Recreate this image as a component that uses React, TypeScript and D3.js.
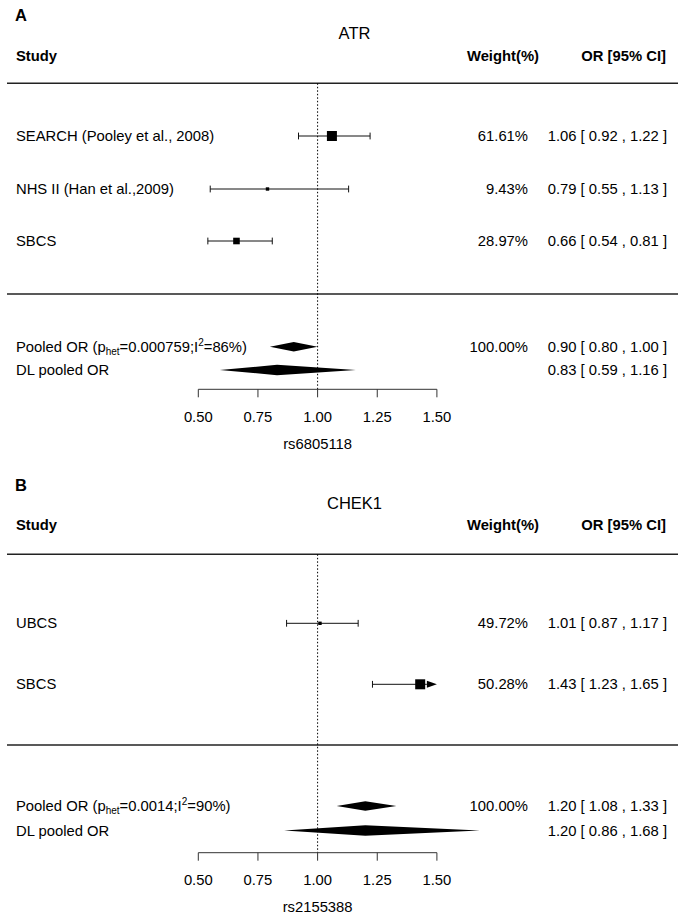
import React from "react";
import * as d3 from "d3";

// ---------- DATA ----------
const ticks = [0.5, 0.75, 1.0, 1.25, 1.5];

const studiesA = ["SEARCH (Pooley et al., 2008)", "NHS II (Han et al.,2009)", "SBCS"];
const orA = [1.06, 0.79, 0.66];
const loA = [0.92, 0.55, 0.54];
const hiA = [1.22, 1.13, 0.81];
const weightA = [61.61, 9.43, 28.97];
const pooledA = [0.9, 0.8, 1.0];
const dlA = [0.83, 0.59, 1.16];
const phetA = "0.000759";
const i2A = "86";

const studiesB = ["UBCS", "SBCS"];
const orB = [1.01, 1.43];
const loB = [0.87, 1.23];
const hiB = [1.17, 1.65];
const weightB = [49.72, 50.28];
const pooledB = [1.2, 1.08, 1.33];
const dlB = [1.2, 0.86, 1.68];
const phetB = "0.0014";
const i2B = "90";

// ---------- LAYOUT ----------
const FONT = "'Liberation Sans', Arial, Helvetica, sans-serif";
const FS = 14.8;
const x = d3.scaleLinear().domain([0.5, 1.5]).range([198.3, 436.9]);
const fmt = d3.format(".2f");

type Panel = {
  letter: string;
  title: string;
  xlab: string;
  studies: string[];
  or: number[];
  lo: number[];
  hi: number[];
  w: number[];
  pooled: number[];
  dl: number[];
  phet: string;
  i2: string;
  y: {
    letter: number;
    title: number;
    header: number;
    line1: number;
    rows: number[];
    line2: number;
    pooled: number;
    dl: number;
    axis: number;
    tickLab: number;
    xlab: number;
  };
};

const panels: Panel[] = [
  {
    letter: "A",
    title: "ATR",
    xlab: "rs6805118",
    studies: studiesA,
    or: orA,
    lo: loA,
    hi: hiA,
    w: weightA,
    pooled: pooledA,
    dl: dlA,
    phet: phetA,
    i2: i2A,
    y: {
      letter: 15,
      title: 33.3,
      header: 56,
      line1: 83.3,
      rows: [136, 189, 241],
      line2: 294,
      pooled: 346.7,
      dl: 370,
      axis: 389.3,
      tickLab: 416.7,
      xlab: 444,
    },
  },
  {
    letter: "B",
    title: "CHEK1",
    xlab: "rs2155388",
    studies: studiesB,
    or: orB,
    lo: loB,
    hi: hiB,
    w: weightB,
    pooled: pooledB,
    dl: dlB,
    phet: phetB,
    i2: i2B,
    y: {
      letter: 485,
      title: 503,
      header: 525,
      line1: 554.3,
      rows: [623.3, 684.3],
      line2: 745,
      pooled: 806,
      dl: 830.5,
      axis: 852.7,
      tickLab: 880,
      xlab: 906.7,
    },
  },
];

const ciText = (v: number[]) => `${fmt(v[0])} [ ${fmt(v[1])} , ${fmt(v[2])} ]`;

function Diamond({ v, y, h }: { v: number[]; y: number; h: number }) {
  const path = `M${x(v[1])},${y} L${x(v[0])},${y - h} L${x(v[2])},${y} L${x(v[0])},${y + h} Z`;
  return <path d={path} fill="#000" />;
}

function PanelView({ p }: { p: Panel }) {
  const size = d3
    .scaleSqrt()
    .domain([d3.min(p.w) as number, d3.max(p.w) as number])
    .range([3.4, 10]);
  const xmin = x.domain()[0];
  const xmax = x.domain()[1];
  const capH = 3.4;
  const textProps = { fontFamily: FONT, fontSize: FS, dominantBaseline: "central" as const };
  return (
    <g>
      <text x={15} y={p.y.letter} {...textProps} fontSize={16.5} fontWeight="bold">
        {p.letter}
      </text>
      <text x={354.5} y={p.y.title} {...textProps} fontSize={16.5} textAnchor="middle">
        {p.title}
      </text>
      <text x={16} y={p.y.header} {...textProps} fontWeight="bold">
        Study
      </text>
      <text x={539} y={p.y.header} {...textProps} fontWeight="bold" textAnchor="end">
        Weight(%)
      </text>
      <text x={666} y={p.y.header} {...textProps} fontWeight="bold" textAnchor="end">
        OR [95% CI]
      </text>
      <line x1={7} x2={678} y1={p.y.line1} y2={p.y.line1} stroke="#222" strokeWidth={1.4} />
      <line x1={7} x2={678} y1={p.y.line2} y2={p.y.line2} stroke="#222" strokeWidth={1.4} />
      {/* reference line */}
      <line
        x1={x(1)}
        x2={x(1)}
        y1={p.y.line1}
        y2={p.y.axis}
        stroke="#000"
        strokeWidth={1}
        strokeDasharray="1.5,2"
      />
      {p.studies.map((s, i) => {
        const y = p.y.rows[i];
        const lo = Math.max(p.lo[i], xmin);
        const hi = Math.min(p.hi[i], xmax);
        const arrowR = p.hi[i] > xmax;
        const arrowL = p.lo[i] < xmin;
        const sz = size(p.w[i]);
        const lineEnd = arrowR ? x(hi) - 10 : x(hi);
        const lineStart = arrowL ? x(lo) + 10 : x(lo);
        return (
          <g key={s}>
            <text x={16} y={y} {...textProps}>
              {s}
            </text>
            <line x1={lineStart} x2={lineEnd} y1={y} y2={y} stroke="#111" strokeWidth={1} />
            {!arrowL && (
              <line x1={x(lo)} x2={x(lo)} y1={y - capH} y2={y + capH} stroke="#111" strokeWidth={1} />
            )}
            {!arrowR && (
              <line x1={x(hi)} x2={x(hi)} y1={y - capH} y2={y + capH} stroke="#111" strokeWidth={1} />
            )}
            {arrowR && (
              <path d={`M${x(hi) - 10},${y - 3.5} L${x(hi)},${y} L${x(hi) - 10},${y + 3.5} Z`} fill="#000" />
            )}
            {arrowL && (
              <path d={`M${x(lo) + 10},${y - 3.5} L${x(lo)},${y} L${x(lo) + 10},${y + 3.5} Z`} fill="#000" />
            )}
            <rect x={x(p.or[i]) - sz / 2} y={y - sz / 2} width={sz} height={sz} fill="#000" />
            <text x={528} y={y} {...textProps} textAnchor="end">
              {`${p.w[i].toFixed(2)}%`}
            </text>
            <text x={667} y={y} {...textProps} textAnchor="end">
              {ciText([p.or[i], p.lo[i], p.hi[i]])}
            </text>
          </g>
        );
      })}
      {/* pooled rows */}
      <text x={16} y={p.y.pooled} {...textProps}>
        Pooled OR (p
        <tspan fontSize={10} dy={4}>
          het
        </tspan>
        <tspan dy={-4}>={p.phet};I</tspan>
        <tspan fontSize={10} dy={-5}>
          2
        </tspan>
        <tspan dy={5}>={p.i2}%)</tspan>
      </text>
      <Diamond v={p.pooled} y={p.y.pooled} h={4.8} />
      <text x={528} y={p.y.pooled} {...textProps} textAnchor="end">
        100.00%
      </text>
      <text x={667} y={p.y.pooled} {...textProps} textAnchor="end">
        {ciText(p.pooled)}
      </text>
      <text x={16} y={p.y.dl} {...textProps}>
        DL pooled OR
      </text>
      <Diamond v={p.dl} y={p.y.dl} h={5.2} />
      <text x={667} y={p.y.dl} {...textProps} textAnchor="end">
        {ciText(p.dl)}
      </text>
      {/* axis */}
      <line x1={x(xmin)} x2={x(xmax)} y1={p.y.axis} y2={p.y.axis} stroke="#333" strokeWidth={1} />
      {ticks.map((t) => (
        <g key={t}>
          <line x1={x(t)} x2={x(t)} y1={p.y.axis} y2={p.y.axis + 8} stroke="#333" strokeWidth={1} />
          <text x={x(t)} y={p.y.tickLab} {...textProps} textAnchor="middle">
            {fmt(t)}
          </text>
        </g>
      ))}
      <text x={x(1)} y={p.y.xlab} {...textProps} textAnchor="middle">
        {p.xlab}
      </text>
    </g>
  );
}

export default function App() {
  return (
    <svg
      width={683}
      height={919}
      viewBox="0 0 683 919"
      style={{ position: "absolute", left: 0, top: 0, background: "#fff" }}
    >
      <rect width={683} height={919} fill="#fff" />
      {panels.map((p) => (
        <PanelView key={p.letter} p={p} />
      ))}
    </svg>
  );
}
